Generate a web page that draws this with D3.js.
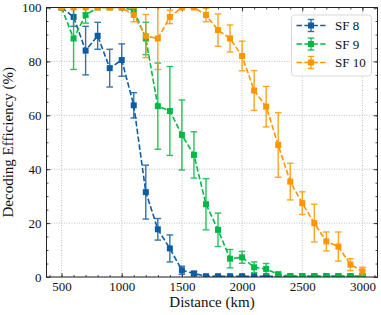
<html>
<head>
<script src="https://cdnjs.cloudflare.com/ajax/libs/d3/7.8.5/d3.min.js"></script>
<style>
  body { margin: 0; background: #fff; }
  svg text { fill: #111; }
</style>
</head>
<body>
<div id="chart"></div>
<script>
// distances (km)
var distances = [500, 600, 700, 800, 900, 1000, 1100, 1200, 1300, 1400, 1500, 1600, 1700,
  1800, 1900, 2000, 2100, 2200, 2300, 2400, 2500, 2600, 2700, 2800, 2900, 3000];

// decoding efficiency (%) and error per spreading factor
var sf8 = [100, 96.5, 84, 89.5, 77.5, 80.5, 63.7, 31.5, 17.7, 10.6, 2.5, 1.3, 0.3,
  0.3, 0.3, 0.3, 0.3, 0.3, 0.3, 0.3, 0.3, 0.3, 0.3, 0.3, 0.3, 0.3];
var sf8Err = [0, 3.5, 9, 5, 7, 6, 4.7, 10, 4, 5, 1.5, 0.8, 0.3,
  0.3, 0.3, 0.3, 0.3, 0.3, 0.3, 0.3, 0.3, 0.3, 0.3, 0.3, 0.3, 0.3];

var sf9 = [100, 88.5, 97.2, 100, 100, 100, 99, 88.5, 63.4, 61.6, 52.7, 45.3, 27,
  17.5, 6.8, 7.3, 3.6, 3, 1, 0.3, 0.3, 0.3, 0.3, 0.3, 0.3, 0.3];
var sf9Err = [0, 11.5, 3, 0, 0, 0, 1, 6, 16, 16.5, 13, 8.6, 9.5,
  6.2, 3.4, 2.2, 2, 2, 0.8, 0.3, 0.3, 0.3, 0.3, 0.3, 0.3, 0.3];

var sf10 = [100, 100, 100, 100, 100, 100, 97.2, 89.4, 88.5, 96.5, 100, 100, 97.2,
  91.6, 88.5, 82, 69.2, 63.2, 49, 35.4, 27.4, 20, 13.2, 11.3, 4.6, 2.1];
var sf10Err = [0, 0, 0, 0, 0, 0, 2.5, 8, 11.5, 2.5, 0, 0.5, 2.5,
  6, 5, 5.5, 7.4, 7.5, 12, 6.8, 4.2, 7, 3.5, 5.4, 2.2, 1.5];

var seriesNames = ["SF 8", "SF 9", "SF 10"];
var seriesColors = ["#0C5DA5", "#00B945", "#FF9500"];
var xTicks = [500, 1000, 1500, 2000, 2500, 3000];
var yTicks = [0, 20, 40, 60, 80, 100];

var width = 381, height = 315;
var margin = {top: 7.5, right: 3.5, bottom: 38, left: 46.5};
var iw = width - margin.left - margin.right,
    ih = height - margin.top - margin.bottom;
var serif = "Liberation Serif";

var svg = d3.select("#chart").append("svg")
  .attr("width", width).attr("height", height)
  .attr("font-family", serif);

svg.append("defs").append("clipPath").attr("id", "clip")
  .append("rect").attr("width", iw).attr("height", ih);

var g = svg.append("g").attr("transform", "translate(" + margin.left + "," + margin.top + ")");

var x = d3.scaleLinear().domain([375, 3125]).range([0, iw]);
var y = d3.scaleLinear().domain([0, 100]).range([ih, 0]);

// grid
g.selectAll(".gx").data(xTicks).enter().append("line")
  .attr("x1", function(d){ return x(d) }).attr("x2", function(d){ return x(d) })
  .attr("y1", 0).attr("y2", ih)
  .attr("stroke", "#b0b0b0").attr("stroke-width", 0.8).attr("stroke-dasharray", "1,1.5")
g.selectAll(".gy").data(yTicks).enter().append("line")
  .attr("y1", function(d){ return y(d) }).attr("y2", function(d){ return y(d) })
  .attr("x1", 0).attr("x2", iw)
  .attr("stroke", "#b0b0b0").attr("stroke-width", 0.8).attr("stroke-dasharray", "1,1.5")

// axes: ticks inward on all four sides
var xMinor = d3.range(400, 3101, 100), yMinor = d3.range(0, 101, 5);
function styleAxis(sel) {
  sel.attr("font-family", serif).attr("font-size", 13);
  sel.select(".domain").remove();
  sel.selectAll("line").attr("stroke", "#222").attr("stroke-width", 0.8);
}
g.append("g").attr("transform", "translate(0," + ih + ")")
  .call(d3.axisBottom(x).tickValues(xTicks).tickSizeInner(-4).tickPadding(5).tickFormat(d3.format("d")))
  .call(styleAxis);
g.append("g").attr("transform", "translate(0," + ih + ")")
  .call(d3.axisBottom(x).tickValues(xMinor).tickSizeInner(-2).tickFormat("")).call(styleAxis);
g.append("g")
  .call(d3.axisTop(x).tickValues(xTicks).tickSizeInner(-4).tickFormat("")).call(styleAxis);
g.append("g")
  .call(d3.axisTop(x).tickValues(xMinor).tickSizeInner(-2).tickFormat("")).call(styleAxis);
g.append("g")
  .call(d3.axisLeft(y).tickValues(yTicks).tickSizeInner(-4).tickPadding(5))
  .call(styleAxis);
g.append("g")
  .call(d3.axisLeft(y).tickValues(yMinor).tickSizeInner(-2).tickFormat("")).call(styleAxis);
g.append("g").attr("transform", "translate(" + iw + ",0)")
  .call(d3.axisRight(y).tickValues(yTicks).tickSizeInner(-4).tickFormat("")).call(styleAxis);
g.append("g").attr("transform", "translate(" + iw + ",0)")
  .call(d3.axisRight(y).tickValues(yMinor).tickSizeInner(-2).tickFormat("")).call(styleAxis);

// data
var allSeries = [
  {name: seriesNames[0], color: seriesColors[0], vals: sf8, errs: sf8Err},
  {name: seriesNames[1], color: seriesColors[1], vals: sf9, errs: sf9Err},
  {name: seriesNames[2], color: seriesColors[2], vals: sf10, errs: sf10Err}
];

var plot = g.append("g").attr("clip-path", "url(#clip)");
var line = d3.line().x(function(d){ return x(d.d) }).y(function(d){ return y(d.v) });
var cap = 3.3, ms = 6;

allSeries.forEach(function(s) {
  var pts = distances.map(function(d, i){ return {d: d, v: s.vals[i], e: s.errs[i]} });
  var sg = plot.append("g");
  sg.append("path").datum(pts).attr("d", line)
    .attr("fill", "none").attr("stroke", s.color).attr("stroke-width", 1.6)
    .attr("stroke-dasharray", "5.5,2.4");
  var eb = sg.selectAll(".eb").data(pts.filter(function(p){ return p.e > 0 })).enter().append("g")
    .attr("stroke", s.color).attr("stroke-width", 1.4).attr("opacity", 0.85);
  eb.append("line")
    .attr("x1", function(p){ return x(p.d) }).attr("x2", function(p){ return x(p.d) })
    .attr("y1", function(p){ return y(p.v + p.e) }).attr("y2", function(p){ return y(p.v - p.e) });
  eb.append("line")
    .attr("x1", function(p){ return x(p.d) - cap }).attr("x2", function(p){ return x(p.d) + cap })
    .attr("y1", function(p){ return y(p.v + p.e) }).attr("y2", function(p){ return y(p.v + p.e) });
  eb.append("line")
    .attr("x1", function(p){ return x(p.d) - cap }).attr("x2", function(p){ return x(p.d) + cap })
    .attr("y1", function(p){ return y(p.v - p.e) }).attr("y2", function(p){ return y(p.v - p.e) });
  sg.selectAll("rect").data(pts).enter().append("rect")
    .attr("x", function(p){ return x(p.d) - ms / 2 }).attr("y", function(p){ return y(p.v) - ms / 2 })
    .attr("width", ms).attr("height", ms).attr("fill", s.color);
});

// frame
g.append("rect").attr("width", iw).attr("height", ih)
  .attr("fill", "none").attr("stroke", "#222").attr("stroke-width", 1);

// legend
var lg = g.append("g").attr("transform", "translate(" + (291.5 - margin.left) + "," + (15 - margin.top) + ")");
lg.append("rect").attr("width", 80).attr("height", 61).attr("rx", 3)
  .attr("fill", "white").attr("fill-opacity", 0.8).attr("stroke", "#d0d0d0").attr("stroke-width", 0.8);
allSeries.forEach(function(s, i) {
  var yy = 10.5 + i * 18.5;
  var e = lg.append("g").attr("transform", "translate(0," + yy + ")");
  e.append("line").attr("x1", 5).attr("x2", 34).attr("y1", 0).attr("y2", 0)
    .attr("stroke", s.color).attr("stroke-width", 1.6).attr("stroke-dasharray", "5.5,2.4");
  e.append("line").attr("x1", 19.5).attr("x2", 19.5).attr("y1", -6).attr("y2", 6)
    .attr("stroke", s.color).attr("stroke-width", 1.4).attr("opacity", 0.85);
  e.append("line").attr("x1", 16.2).attr("x2", 22.8).attr("y1", -6).attr("y2", -6)
    .attr("stroke", s.color).attr("stroke-width", 1.4).attr("opacity", 0.85);
  e.append("line").attr("x1", 16.2).attr("x2", 22.8).attr("y1", 6).attr("y2", 6)
    .attr("stroke", s.color).attr("stroke-width", 1.4).attr("opacity", 0.85);
  e.append("rect").attr("x", 19.5 - ms / 2).attr("y", -ms / 2).attr("width", ms).attr("height", ms)
    .attr("fill", s.color);
  e.append("text").attr("x", 43.5).attr("y", 4.5).attr("font-size", 13).text(s.name);
});

// axis labels
svg.append("text").attr("x", margin.left + iw / 2).attr("y", 307)
  .attr("text-anchor", "middle").attr("font-size", 15).text("Distance (km)");
svg.append("text").attr("transform", "translate(13," + (margin.top + ih / 2) + ") rotate(-90)")
  .attr("text-anchor", "middle").attr("font-size", 15).text("Decoding Efficiency (%)");
</script>
</body>
</html>
